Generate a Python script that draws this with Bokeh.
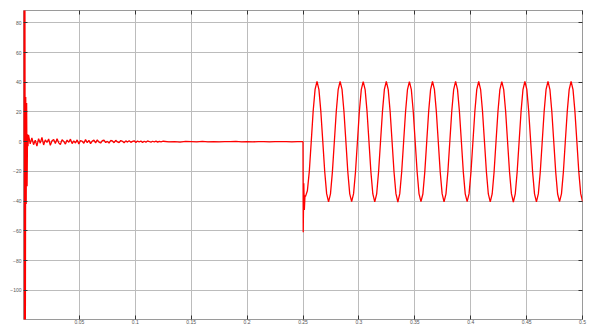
import numpy as np
from bokeh.plotting import figure
from bokeh.models import (ColumnDataSource, FixedTicker, LinearAxis, Range1d,
                          CustomJSTickFormatter)
from bokeh.embed import file_html
from bokeh.resources import INLINE

# ---------------- data ----------------
x_ticks = [0.05, 0.1, 0.15, 0.2, 0.25, 0.3, 0.35, 0.4, 0.45, 0.5]
y_ticks = [80, 60, 40, 20, 0, -20, -40, -60, -80, -100]

# start-up transient (sample grid t0=0, dt=0.0004 s)
start_t0, start_dt = 0.0, 0.0004
start_vals = [0, 220, -230, 160, -150, 30, -42, 26, -30, 5, -3]

# decaying noise after start-up (t0=0.0045, dt=0.0015 s)
noise_t0, noise_dt = 0.0045, 0.0015
noise_vals = [4.5, -1.5, 2.5, -2.0, 1.0, -3.0, 2.0, -1.0, 2.8, -2.2,
              1.2, -0.5, 1.8, -2.4, 0.6, 1.5, -1.2, 2.0, -0.8, -1.9,
              1.4, 0.2, -1.6, 1.1, -0.4, 1.7, -1.3, 0.5, -0.9, 1.2,
              -1.5, 0.8, 0.3, -1.1, 1.4, -0.6, 0.9, -1.3, 0.4, 1.0,
              -0.8, 1.2, -0.3, -0.9, 0.7, 1.1, -0.6, 0.2, -1.0, 0.8,
              0.5, -0.7, 0.9, -0.2, -0.6, 0.8, 0.3, -0.8, 0.6, -0.3,
              0.7, -0.5, 0.2, 0.6, -0.6, 0.4, -0.2, 0.5, -0.5, 0.3,
              -0.4, 0.5, 0.1, -0.4, 0.3, -0.2, 0.4, -0.3, 0.2, -0.1]

# settled, almost flat part (t0=0.125, dt=0.005 s)
flat_t0, flat_dt = 0.125, 0.005
flat_vals = [0.3, -0.2, 0.1, -0.3, 0.2, 0.0, -0.2, 0.2, -0.1, 0.1,
             -0.2, 0.1, 0.0, 0.2, -0.1, 0.1, -0.1, 0.0, 0.1, -0.1,
             0.0, 0.1, 0.0, -0.1, 0.0]

# event at t = 0.25 s
fault_t = [0.2500, 0.2502, 0.2507, 0.2512, 0.2518]
fault_vals = [0, -61, -28, -46, -36]

# oscillation after the event (t0=0.2522, dt=0.0017217 s)
wave_t0, wave_dt = 0.2522, 0.0017217
wave_vals = [
    -37.0, -33.0, -20.0, 0.0, 20.5, 35.2, 40.6, 35.0, 20.2, 0.2, -20.1, -35.0,
    -40.5, -35.1, -20.3, -0.1, 20.2, 35.1, 40.5, 35.2, 20.3, 0.1, -20.2, -35.1,
    -40.4, -35.0, -20.2, 0.0, 20.3, 35.0, 40.4, 35.1, 20.2, 0.0, -20.3, -35.2,
    -40.5, -35.1, -20.1, 0.1, 20.2, 35.2, 40.5, 35.0, 20.1, -0.1, -20.2, -35.0,
    -40.6, -35.0, -20.2, 0.0, 20.1, 35.1, 40.4, 35.1, 20.3, 0.1, -20.1, -35.1,
    -40.4, -35.2, -20.3, -0.1, 20.2, 35.0, 40.5, 35.2, 20.2, 0.0, -20.2, -35.0,
    -40.5, -35.1, -20.1, 0.1, 20.3, 35.1, 40.6, 35.0, 20.1, 0.1, -20.3, -35.1,
    -40.4, -35.0, -20.2, 0.0, 20.2, 35.2, 40.5, 35.1, 20.2, -0.1, -20.2, -35.2,
    -40.5, -35.2, -20.3, 0.1, 20.1, 35.0, 40.4, 35.0, 20.3, 0.0, -20.1, -35.0,
    -40.6, -35.1, -20.1, 0.0, 20.2, 35.1, 40.5, 35.2, 20.2, 0.1, -20.2, -35.1,
    -40.5, -35.0, -20.2, -0.1, 20.3, 35.2, 40.6, 35.1, 20.1, 0.0, -20.3, -35.2,
    -40.4, -35.1, -20.3, 0.1, 20.2, 35.0, 40.5, 35.0, 20.2, 0.1, -20.2, -35.0,
    -40.5,
]

# ---------------- assemble ----------------
def grid(t0, dt, vals):
    return list(t0 + dt * np.arange(len(vals)))

t_all = (grid(start_t0, start_dt, start_vals) + grid(noise_t0, noise_dt, noise_vals)
         + grid(flat_t0, flat_dt, flat_vals) + list(fault_t)
         + grid(wave_t0, wave_dt, wave_vals))
v_all = (list(start_vals) + list(noise_vals) + list(flat_vals)
         + list(fault_vals) + list(wave_vals))

src = ColumnDataSource(data=dict(t=t_all, v=v_all))

p = figure(width=595, height=326, output_backend="svg", toolbar_location=None,
           x_range=Range1d(0, 0.5), y_range=Range1d(-119.7, 88.3),
           min_border_left=23, min_border_right=13, min_border_top=10,
           min_border_bottom=6, background_fill_color="white",
           border_fill_color="white", outline_line_color="#9a9a9a")

label_font = "Liberation Sans"
fmt = CustomJSTickFormatter(code="return String(Math.round(tick*100)/100);")

def style_axis(ax, ticks):
    ax.ticker = FixedTicker(ticks=ticks)
    ax.axis_line_color = None
    ax.major_tick_in = 4
    ax.major_tick_out = 0
    ax.major_tick_line_color = "#333333"
    ax.minor_tick_line_color = None
    ax.major_label_text_font = label_font
    ax.major_label_text_color = "#555555"
    ax.major_label_text_font_size = "5px"
    ax.major_label_standoff = 2

for ax in p.xaxis:
    style_axis(ax, x_ticks)
    ax.formatter = fmt
    ax.major_label_standoff = 0
for ax in p.yaxis:
    style_axis(ax, y_ticks)

# inner tick marks on the top and right edges (no labels there)
top_ax = LinearAxis()
style_axis(top_ax, x_ticks)
top_ax.major_label_text_color = None
top_ax.major_label_text_font_size = "1px"
top_ax.major_label_standoff = 0
p.add_layout(top_ax, "above")
right_ax = LinearAxis()
style_axis(right_ax, y_ticks)
right_ax.major_label_text_color = None
right_ax.major_label_text_font_size = "1px"
right_ax.major_label_standoff = 0
p.add_layout(right_ax, "right")

p.xgrid.ticker = FixedTicker(ticks=x_ticks)
p.ygrid.ticker = FixedTicker(ticks=y_ticks)
for g in (p.xgrid, p.ygrid):
    g.grid_line_color = "#bcbcbc"
    g.grid_line_width = 1

p.line("t", "v", source=src, line_color="#ff0000", line_width=1.3)

open("out.html", "w").write(file_html(p, INLINE))
